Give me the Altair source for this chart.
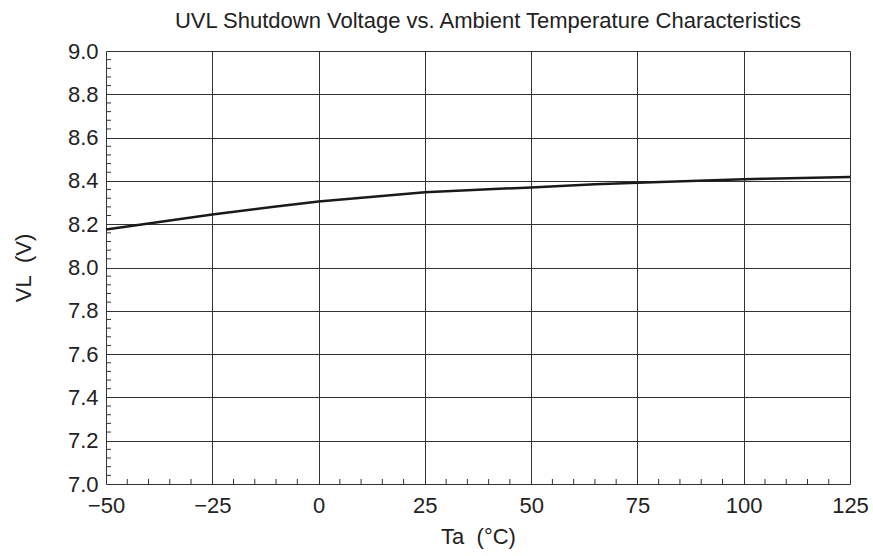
import altair as alt
import pandas as pd

# Shutdown voltage VL (V) against ambient temperature Ta (deg C)
temps = [-50, -25, -10, 0, 25, 50, 65, 75, 100, 105, 125]
volts = [8.175, 8.245, 8.282, 8.305, 8.348, 8.37, 8.384, 8.392, 8.408, 8.41, 8.418]

x_major = [-50, -25, 0, 25, 50, 75, 100, 125]
y_major = [7.0, 7.2, 7.4, 7.6, 7.8, 8.0, 8.2, 8.4, 8.6, 8.8, 9.0]
x_minor = [v for v in range(-50, 126, 5) if v % 25 != 0]
y_minor = [round(7.0 + 0.04 * i, 2) for i in range(51) if i % 5 != 0]

W, H = 744, 433
FONT = "Liberation Sans"
FS = 22

curve = pd.DataFrame({"Ta": temps, "VL": volts})
xm = pd.DataFrame({"Ta": x_minor})
ym = pd.DataFrame({"VL": y_minor})

x_scale = alt.Scale(domain=[-50, 125], nice=False, zero=False)
y_scale = alt.Scale(domain=[7.0, 9.0], nice=False, zero=False)

x_axis = alt.Axis(
    values=x_major, title="Ta\u00a0\u00a0(°C)", grid=True, ticks=False, domain=False,
    labelExpr="replace(datum.label, '-', '−')", labelFlush=False,
    labelFont=FONT, labelFontSize=FS, labelColor="#222", labelPadding=11,
    titleFont=FONT, titleFontSize=FS, titleFontWeight="normal", titleColor="#222",
    titlePadding=10, gridColor="#333", gridWidth=1, gridOpacity=1,
)
y_axis = alt.Axis(
    values=y_major, title="VL\u00a0\u00a0(V)", format=".1f", grid=True, ticks=False, domain=False,
    labelFont=FONT, labelFontSize=FS, labelColor="#222", labelPadding=8,
    titleFont=FONT, titleFontSize=FS, titleFontWeight="normal", titleColor="#222",
    titlePadding=32, gridColor="#333", gridWidth=1, gridOpacity=1,
)

line = alt.Chart(curve).mark_line(color="#1a1a1a", strokeWidth=2.5).encode(
    x=alt.X("Ta:Q", scale=x_scale, axis=x_axis),
    y=alt.Y("VL:Q", scale=y_scale, axis=y_axis),
)

x_ticks = alt.Chart(xm).mark_rule(color="#333", strokeWidth=1).encode(
    x=alt.X("Ta:Q", scale=x_scale),
    y=alt.value(H),
    y2=alt.value(H - 5),
)

y_ticks = alt.Chart(ym).mark_rule(color="#333", strokeWidth=1).encode(
    y=alt.Y("VL:Q", scale=y_scale),
    x=alt.value(0),
    x2=alt.value(5),
)

chart = (
    alt.layer(line, x_ticks, y_ticks)
    .properties(
        width=W,
        height=H,
        autosize=alt.AutoSizeParams(type="none"),
        padding={"left": 106, "top": 51, "right": 23, "bottom": 72},
        title=alt.TitleParams(
            "UVL Shutdown Voltage vs. Ambient Temperature Characteristics",
            font=FONT, fontSize=FS, fontWeight="normal", color="#222",
            anchor="middle", offset=7, dx=10,
        ),
    )
    .configure_view(stroke="#333", strokeWidth=1.5)
    .configure(background="white")
)

chart.save("out.html", embed_options={"renderer": "svg", "actions": False})
